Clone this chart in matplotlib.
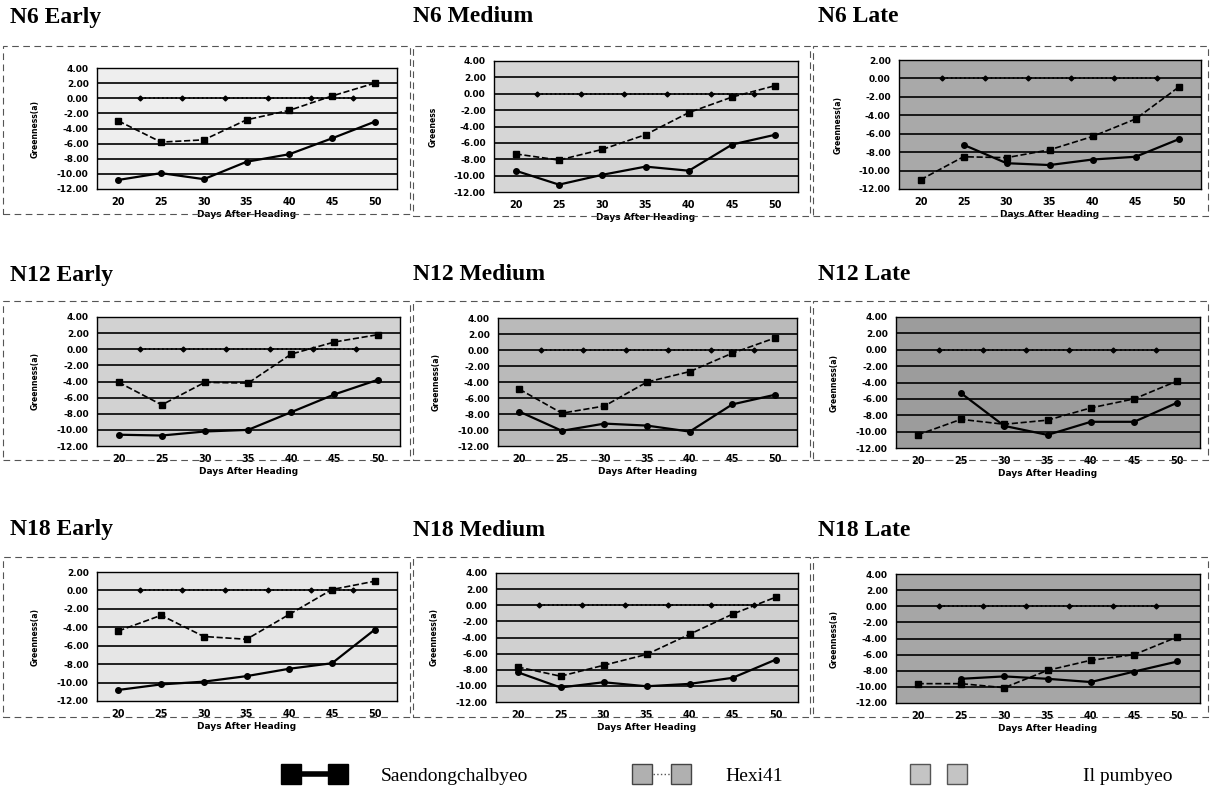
import matplotlib.pyplot as plt
from matplotlib.lines import Line2D
from matplotlib.patches import Rectangle
import numpy as np

# Greenness (relative to Il pumbyeo) by days after heading, 9 treatments
days = [20, 25, 30, 35, 40, 45, 50]
il_days = [22.5, 27.5, 32.5, 37.5, 42.5, 47.5]
il_vals = [0, 0, 0, 0, 0, 0]

titles = ['N6 Early', 'N6 Medium', 'N6 Late',
          'N12 Early', 'N12 Medium', 'N12 Late',
          'N18 Early', 'N18 Medium', 'N18 Late']

nan = np.nan
saen = [
    [-10.8, -9.9, -10.7, -8.4, -7.4, -5.3, -3.1],
    [-9.4, -11.1, -9.9, -8.9, -9.4, -6.2, -5.0],
    [nan, -7.2, -9.2, -9.4, -8.8, -8.5, -6.6],
    [-10.6, -10.7, -10.2, -10.0, -7.8, -5.6, -3.8],
    [-7.7, -10.1, -9.2, -9.45, -10.2, -6.8, -5.6],
    [nan, -5.3, -9.3, -10.4, -8.8, -8.8, -6.45],
    [-10.8, -10.2, -9.9, -9.3, -8.5, -7.9, -4.25],
    [-8.3, -10.2, -9.55, -10.05, -9.75, -9.0, -6.75],
    [nan, -9.0, -8.7, -9.0, -9.4, -8.1, -6.85],
]
hexi = [
    [-3.0, -5.8, -5.5, -2.85, -1.6, 0.3, 2.0],
    [-7.35, -8.1, -6.8, -5.0, -2.3, -0.4, 1.0],
    [-11.0, -8.5, -8.6, -7.75, -6.3, -4.4, -0.95],
    [-4.1, -6.9, -4.1, -4.2, -0.6, 0.9, 1.8],
    [-4.9, -7.9, -7.0, -4.0, -2.7, -0.4, 1.5],
    [-10.4, -8.5, -9.1, -8.6, -7.1, -6.0, -3.8],
    [-4.4, -2.7, -5.0, -5.3, -2.6, 0.1, 1.0],
    [-7.65, -8.8, -7.45, -6.1, -3.6, -1.1, 1.0],
    [-9.6, -9.6, -10.1, -7.95, -6.7, -6.0, -3.8],
]
ytops = [4, 4, 2, 4, 4, 4, 2, 4, 4]
ylabels = ['Greenness(a)', 'Greeness', 'Greenness(a)'] + ['Greenness(a)'] * 6
shades = ['#eeeeee', '#d6d6d6', '#a9a9a9',
          '#d2d2d2', '#bababa', '#9c9c9c',
          '#e6e6e6', '#d0d0d0', '#a6a6a6']

W, H = 1210, 799
# axes boxes in pixels: x0, y0, x1, y1
axes_px = [
    (97, 68, 397, 189), (494, 61, 798, 192), (899, 60, 1201, 189),
    (97, 317, 400, 446), (498, 318, 797, 446), (896, 317, 1200, 448),
    (97, 572, 397, 701), (496, 573, 798, 702), (896, 574, 1200, 703),
]
boxes_px = [
    (3, 46, 410, 214), (413, 46, 810, 216), (813, 46, 1208, 216),
    (3, 301, 410, 460), (413, 301, 810, 460), (813, 301, 1208, 460),
    (3, 557, 410, 717), (413, 557, 810, 717), (813, 557, 1208, 717),
]
title_px = [(10, 17), (413, 17), (818, 17),
            (10, 275), (413, 275), (818, 275),
            (10, 530), (413, 530), (818, 530)]

plt.rcParams['hatch.color'] = '#7a7a7a'
plt.rcParams['hatch.linewidth'] = 0.4
serif = ['Liberation Serif', 'DejaVu Serif']

fig = plt.figure(figsize=(W / 100, H / 100), dpi=100)

for i in range(9):
    # dashed frame of each panel
    bx0, by0, bx1, by1 = boxes_px[i]
    fig.add_artist(Rectangle((bx0 / W, 1 - by1 / H), (bx1 - bx0) / W, (by1 - by0) / H,
                             transform=fig.transFigure, fill=False, ec='#555555',
                             lw=0.8, ls=(0, (6, 4))))
    tx, ty = title_px[i]
    fig.text(tx / W, 1 - ty / H, titles[i], fontsize=17, fontweight='bold',
             family=serif, va='center', ha='left')

    x0, y0, x1, y1 = axes_px[i]
    ax = fig.add_axes([x0 / W, 1 - y1 / H, (x1 - x0) / W, (y1 - y0) / H])
    ax.set_facecolor(shades[i])
    ax.patch.set_hatch('.....')
    ax.set_xlim(17.5, 52.6)
    ax.set_ylim(-12, ytops[i])
    yt = list(range(ytops[i], -13, -2))
    ax.set_yticks(yt)
    ax.set_yticklabels(['%.2f' % v for v in yt], fontsize=6.5, fontweight='bold')
    ax.set_xticks(days)
    ax.set_xticklabels([str(d) for d in days], fontsize=7, fontweight='bold')
    ax.tick_params(length=0, pad=6)
    for v in yt[1:-1]:
        ax.axhline(v, color='black', lw=1.2, zorder=1)
    ax.plot(il_days, il_vals, ls=':', color='black', lw=1.2, marker='D', ms=2.5, zorder=2)
    ax.plot(days, hexi[i], ls='--', color='black', lw=1.2, marker='s', ms=4.5, zorder=3)
    ax.plot(days, saen[i], ls='-', color='black', lw=1.6, marker='o', ms=4, zorder=4)
    ax.set_xlabel('Days After Heading', fontsize=6.5, fontweight='bold', labelpad=2)
    ax.set_ylabel(ylabels[i], fontsize=5.5, fontweight='bold', labelpad=12)
    for s in ax.spines.values():
        s.set_linewidth(1.0)

# legend along the bottom
h1 = Line2D([], [], color='black', lw=4, marker='s', ms=15, mfc='black', mec='black')
h2 = Line2D([], [], color='#555555', lw=1, ls=':', marker='s', ms=14,
            mfc='#b0b0b0', mec='#444444')
h3 = Line2D([], [], ls='none', marker='s', ms=14, mfc='#c4c4c4', mec='#555555')
legend_items = [(h1, 'Saendongchalbyeo', 285 / W, 3.0, 1.9),
                (h2, 'Hexi41', 636 / W, 2.6, 2.0),
                (h3, 'Il pumbyeo', 914 / W, 2.5, 6.2)]
for h, lab, lx, hl, tp in legend_items:
    fig.legend([h], [lab], loc='center left', bbox_to_anchor=(lx, 1 - 776 / H),
               frameon=False, numpoints=2, handlelength=hl, handletextpad=tp,
               borderpad=0, borderaxespad=0, prop={'family': serif, 'size': 14})

fig.savefig('out.png', dpi=100)
